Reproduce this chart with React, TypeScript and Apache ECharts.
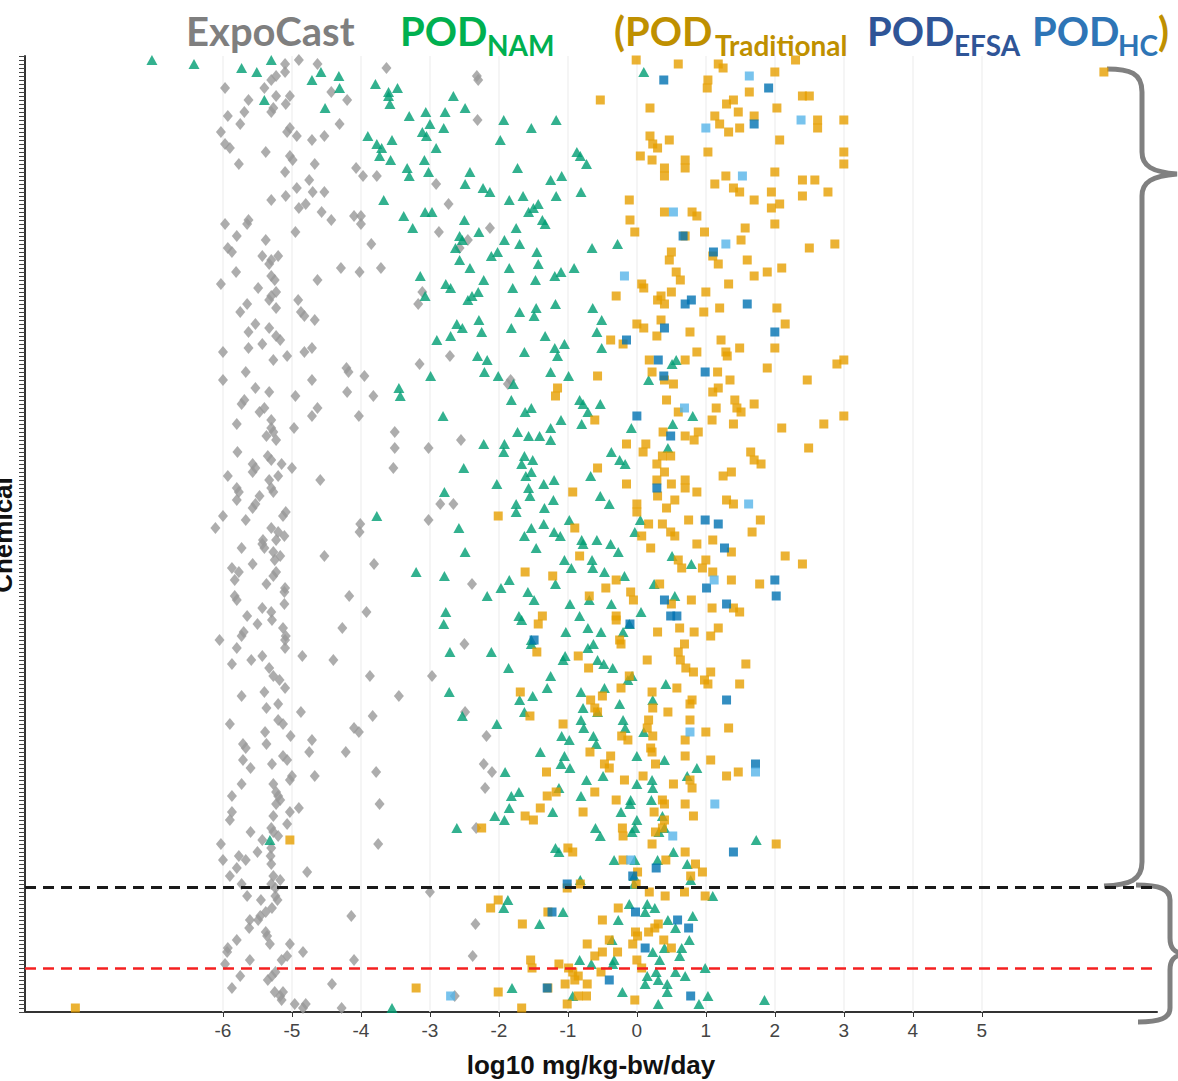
import React, { useEffect, useRef } from "react";
import * as echarts from "echarts";

// ---- tick labels ----
const xTicks = [-6, -5, -4, -3, -2, -1, 0, 1, 2, 3, 4, 5];
const X_MIN = -8.87;
const X_MAX = 7.54;
const Y_MAX = 239; // chemical rows
// separator lines between chemical groups (row positions)
const blackCut = 31.25;
const redCut = 11;

// ---- series values: [log10 mg/kg-bw/day, chemical row] ----
const expoCast: [number, number][] = [
  [-5.97,231],[-5.63,228],[-5.69,225],[-5.93,224],[-5.75,222],[-6.03,220],[-5.97,217],[-5.90,216],[-5.77,212],[-5.38,215],[-5.10,235],[-5.30,233],[-5.40,231],[-5.23,229],[-5.03,229],[-5.09,227],[-5.27,226],[-5.30,225],[-5.03,221],[-5.07,220],[-4.93,219],[-5.03,214],[-4.99,213],[-5.10,210],[-4.71,218],[-4.53,219],[-4.31,222],[-4.67,212],[-4.43,230],[-4.20,228],[-4.75,208],[-4.93,206],[-4.70,205],[-4.53,205],[-5.30,203],[-5.09,204],[-4.90,201],[-4.80,202],[-4.57,200],[-3.63,236],[-2.32,234],[-2.30,233],[-2.31,223],[-4.07,211],[-3.97,209],[-3.77,209],[-2.91,207],[-2.73,202],[-4.10,199],[-4.00,199],[-5.63,198],[-5.10,237],[-4.90,238],[-4.63,237],[-5.23,234],
  [-5.97,197],[-5.65,197],[-5.80,194],[-5.38,193],[-5.93,191],[-5.87,190],[-5.43,189],[-5.30,188],[-5.20,189],[-5.33,187],[-5.81,185],[-6.03,182],[-5.49,181],[-5.30,184],[-5.25,183],[-5.23,180],[-5.30,179],[-5.33,178],[-5.65,177],[-5.75,175],[-5.23,176],[-4.91,178],[-4.87,175],[-4.82,174],[-4.67,173],[-5.53,172],[-5.63,170],[-5.33,171],[-5.23,169],[-5.17,168],[-5.43,167],[-5.63,166],[-6.00,165],[-5.27,163],[-5.07,164],[-5.67,160],[-4.82,165],[-4.71,166],[-4.95,195],[-4.43,198],[-4.00,197],[-4.63,183],[-4.29,186],[-4.02,185],[-3.85,192],[-3.71,186],[-2.87,195],[-2.45,193],[-2.13,196],[-2.57,191],[-3.11,180],[-3.17,177],[-3.15,162],[-2.71,164],[-4.21,161],[-4.18,160],[-3.95,159],[-4.71,158],[-6.00,158],[-1.83,158],
  [-5.53,156],[-5.33,155],[-5.69,153],[-5.73,152],[-5.40,151],[-5.47,150],[-5.30,148],[-5.80,147],[-5.30,146],[-5.27,145],[-5.37,144],[-5.23,143],[-5.79,140],[-5.35,139],[-5.30,138],[-5.15,137],[-5.00,136],[-5.57,137],[-5.53,136],[-5.57,135],[-5.20,134],[-5.93,134],[-5.80,131],[-5.77,130],[-5.33,133],[-5.30,131],[-5.27,130],[-5.47,129],[-5.80,128],[-5.57,126],[-5.53,127],[-5.09,125],[-5.13,124],[-6.00,124],[-5.67,123],[-6.11,121],[-5.30,121],[-5.20,120],[-5.11,119],[-5.42,118],[-4.95,154],[-4.71,149],[-4.63,151],[-4.20,155],[-3.82,154],[-4.03,149],[-4.97,146],[-3.51,145],[-3.51,141],[-3.02,141],[-2.55,143],[-3.53,136],[-4.59,133],[-2.85,127],[-2.66,127],[-3.02,123],[-4.01,122],[-4.02,120],[-1.87,157],
  [-5.73,116],[-5.43,117],[-5.23,118],[-5.40,116],[-5.27,115],[-5.17,114],[-5.25,113],[-5.57,112],[-5.87,111],[-5.77,110],[-5.83,108],[-5.23,110],[-5.27,109],[-5.37,107],[-5.10,106],[-5.11,105],[-5.83,104],[-5.80,103],[-5.43,101],[-5.30,100],[-5.11,102],[-5.65,99],[-5.50,97],[-5.29,98],[-5.13,96],[-5.70,95],[-5.73,94],[-5.09,94],[-5.10,93],[-6.05,93],[-5.80,91],[-5.43,89],[-5.59,88],[-5.87,87],[-5.10,91],[-5.33,86],[-5.27,84],[-5.18,83],[-5.10,81],[-5.40,80],[-5.73,79],[-4.53,114],[-3.81,112],[-4.17,104],[-3.92,100],[-4.27,96],[-4.85,89],[-4.40,88],[-2.39,107],[-2.50,92],[-2.97,84],[-3.87,84],[-3.45,79],
  [-5.37,76],[-5.20,77],[-5.20,73],[-5.13,72],[-4.87,75],[-5.90,72],[-5.39,70],[-5.71,67],[-5.67,66],[-5.37,67],[-5.02,69],[-4.71,68],[-4.75,65],[-5.13,64],[-5.07,63],[-5.71,63],[-5.60,61],[-5.29,62],[-5.00,59],[-5.03,58],[-4.67,59],[-5.73,57],[-5.27,57],[-5.23,55],[-5.20,54],[-5.17,53],[-5.23,52],[-5.87,54],[-5.87,50],[-5.90,48],[-5.03,50],[-4.90,51],[-5.27,49],[-5.07,47],[-5.60,45],[-5.30,46],[-5.27,45],[-5.20,44],[-5.43,43],[-6.03,42],[-5.50,40],[-5.30,41],[-5.31,39],[-6.00,38],[-5.77,39],[-5.67,38],[-5.30,37],[-3.83,74],[-4.10,71],[-4.03,70],[-4.22,65],[-3.78,60],[-3.73,52],[-3.75,42],[-2.49,75],[-2.18,69],[-2.22,62],[-2.10,60],[-2.20,56],[-2.33,46],
  [-5.80,36],[-5.90,34],[-5.73,32],[-5.27,34],[-5.17,33],[-5.30,32],[-5.24,31],[-5.65,29],[-5.45,28],[-5.24,29],[-5.21,28],[-5.29,26],[-5.38,25],[-5.46,24],[-5.49,23],[-5.61,23],[-5.62,21],[-5.38,20],[-5.36,19],[-5.32,17],[-5.80,18],[-5.93,16],[-5.94,15],[-5.61,13],[-5.97,12],[-5.03,17],[-4.84,15],[-5.07,14],[-5.15,13],[-5.24,10],[-5.29,9],[-5.35,8],[-5.75,9],[-5.87,6],[-5.25,5],[-5.17,4],[-5.13,5],[-5.15,3],[-4.96,2],[-4.80,2],[-4.84,1],[-4.42,7],[-4.28,1],[-4.10,13],[-4.14,24],[-4.78,35],[-3.00,30],[-2.34,22],[-2.38,14],[-2.64,4]
];

const podNam: [number, number][] = [
  [-7.03,238],[-6.42,237],[-5.73,236],[-5.51,235],[-5.30,238],[-4.71,233],[-4.58,235],[-4.32,234],[-4.31,231],[-5.40,228],[-4.52,226],[-3.79,232],[-3.60,230],[-3.47,231],[-3.60,229],[-3.58,227],[-2.66,229],[-3.30,224],[-3.06,225],[-2.78,225],[-2.49,226],[-3.00,222],[-3.11,220],[-3.05,219],[-2.80,221],[-3.90,219],[-3.77,217],[-3.70,216],[-3.55,218],[-3.73,214],[-3.57,213],[-3.08,213],[-2.91,216],[-3.33,211],[-3.30,209],[-3.02,210],[-1.93,223],[-1.53,221],[-1.17,223],[-1.98,218],[-0.87,215],[-0.82,214],[-0.73,212],[-2.42,210],[-2.49,207],[-2.23,206],[-2.13,205],[-1.73,211],[-1.25,208],[-1.09,209],[-0.81,205],[-1.65,204],[-1.85,203],[-1.17,204],[-1.50,201],[-1.57,200],[-1.43,202],[-3.67,203],[0.10,235],[-3.38,199],[-3.07,200],[-2.97,200],[-2.50,198],[-1.37,198],
  [-3.25,196],[-2.29,195],[-2.57,194],[-2.53,193],[-1.75,196],[-1.33,197],[-1.92,193],[-1.70,192],[-2.63,191],[-2.57,188],[-2.11,189],[-2.02,190],[-1.45,190],[-1.43,187],[-1.85,186],[-2.42,186],[-0.65,191],[-0.28,192],[-0.91,186],[-1.10,185],[-1.19,184],[-1.47,183],[-1.80,181],[-2.22,183],[-3.14,184],[-2.77,182],[-2.70,181],[-2.30,180],[-2.39,179],[-2.45,178],[-3.07,179],[-1.18,177],[-0.64,176],[-1.70,175],[-1.46,176],[-1.49,174],[-0.51,173],[-0.58,170],[-2.29,173],[-2.61,172],[-2.53,171],[-2.25,170],[-1.82,171],[-2.90,168],[-2.70,169],[-1.33,169],[-1.05,167],[-1.19,166],[-1.15,164],[-0.51,166],[-1.63,165],[-2.31,164],[-2.17,163],[-2.21,160],[-2.01,159],[-1.25,160],[-0.99,159],[0.51,162],[0.57,163],[0.17,158],[-2.99,159],
  [-3.45,156],[-3.43,154],[-1.79,157],[-1.82,153],[-1.62,150],[-1.53,151],[-2.81,149],[-1.10,148],[-0.80,147],[-0.83,153],[-0.78,152],[-0.53,152],[-0.71,150],[-0.08,146],[0.52,147],[0.81,149],[-1.73,145],[-1.57,144],[-1.41,144],[-1.25,146],[-1.25,143],[-2.22,142],[-1.92,142],[-1.93,140],[-1.63,139],[-1.51,138],[-1.67,137],[-1.53,135],[-1.61,134],[-1.35,132],[-1.20,133],[-1.57,131],[-1.55,129],[-0.37,140],[-0.25,138],[-0.17,137],[-0.67,134],[0.45,141],[-2.51,136],[-2.03,132],[-2.79,130],[-0.53,129],[-0.40,127],[-1.21,128],[-1.75,127],[-1.75,125],[-1.34,126],[-0.98,123],[-1.53,121],[-1.35,122],[-1.20,120],[-1.63,119],[-2.58,121],[-3.77,124],[-0.03,120],[0.05,123],[-0.80,118],[-0.58,118],
  [-1.11,119],[-0.78,117],[-0.38,117],[-0.27,115],[-1.46,116],[-2.49,115],[-3.20,110],[-2.79,109],[-1.05,113],[-0.95,111],[-0.65,113],[-0.64,111],[-0.47,110],[-0.18,109],[0.25,107],[0.51,114],[0.79,112],[-1.85,108],[-1.97,106],[-2.17,104],[-1.58,105],[-1.49,103],[-1.18,107],[-0.97,102],[-0.69,103],[-0.37,102],[0.06,100],[-2.77,100],[-2.80,97],[-1.71,99],[-1.67,98],[-0.83,99],[-0.71,96],[-0.52,95],[-1.03,95],[-1.53,93],[-1.53,92],[-0.20,95],[-0.63,92],[-0.71,91],[-0.11,97],[-1.04,89],[-1.07,88],[-0.57,88],[-0.48,87],[-0.35,86],[-1.86,86],[-2.11,90],[-2.71,90],[-1.25,84],[-1.30,81],[-0.81,80],[-0.47,81],[-0.13,83],[-0.07,84],[0.42,82],[0.55,104],[-2.72,80],[-1.51,79],[0.23,78],
  [-2.53,74],[-2.03,72],[-1.70,78],[-1.63,75],[-0.78,76],[-0.57,75],[-0.25,77],[-0.81,73],[-0.77,71],[-1.09,69],[-0.98,68],[-0.63,69],[-0.59,67],[-0.20,73],[-0.17,71],[0.10,70],[-1.40,65],[-1.05,64],[-1.10,62],[-0.97,61],[0.00,64],[0.40,63],[0.87,61],[-1.91,60],[-0.73,58],[-0.49,59],[0.00,57],[0.22,58],[0.23,56],[0.73,59],[-1.82,54],[-1.71,55],[-1.13,56],[-0.81,54],[-0.09,53],[-0.10,52],[0.21,53],[-0.23,50],[-1.22,50],[-1.85,51],[-2.06,49],[-1.92,48],[-2.61,46],[0.00,48],[-0.03,46],[-0.60,46],[-0.53,44],[-0.07,45],[0.37,49],[0.40,46],[0.32,45],[-1.18,41],[-1.13,40],[0.53,40],[1.73,43],[-0.33,38],[-0.03,38],[0.30,38],[0.73,37],[-5.32,43],
  [-1.87,28],[-1.93,26],[-1.41,22],[-1.07,25],[-0.82,33],[-0.83,13],[-0.66,12],[-0.35,12],[-0.27,23],[-0.11,27],[-0.04,32],[0.15,27],[0.12,25],[0.26,26],[0.45,23],[0.56,21],[0.81,24],[0.76,18],[0.65,16],[0.62,14],[0.40,16],[0.23,15],[0.33,13],[0.99,11],[0.15,9],[0.28,10],[0.12,7],[0.31,8],[0.44,7],[0.56,10],[0.70,9],[0.44,5],[-0.21,5],[-0.93,4],[-0.36,18],[-0.33,13],[-1.81,6],[1.10,29],[0.78,33],[1.03,4],[0.90,2],[1.85,3],[0.31,2],[-3.55,1],[-0.04,34]
];

const podTraditional: [number, number][] = [
  [-0.53,228],[-0.01,238],[0.60,237],[1.18,237],[1.25,236],[2.00,235],[1.03,233],[1.02,231],[1.63,230],[2.40,229],[2.50,229],[1.30,227],[1.40,228],[1.47,225],[2.03,226],[1.13,224],[1.20,222],[1.33,220],[1.49,221],[1.70,224],[2.62,223],[2.62,221],[3.00,223],[2.07,218],[0.19,226],[0.19,219],[0.23,217],[0.30,216],[0.47,218],[1.03,215],[0.05,214],[0.22,213],[0.40,211],[0.70,213],[0.70,211],[0.40,209],[1.29,209],[1.13,207],[1.40,206],[1.49,205],[2.00,210],[2.40,208],[2.58,208],[3.00,215],[3.00,212],[2.77,205],[1.95,205],[2.40,204],[1.70,203],[1.95,201],[2.07,202],[-0.11,203],[0.40,200],[0.80,200],[0.87,199],[-0.10,198],[2.30,238],[6.77,235],
  [-0.03,195],[0.98,195],[1.57,196],[2.00,197],[0.70,194],[1.51,193],[0.50,190],[0.47,188],[1.10,189],[1.18,187],[1.60,188],[2.10,186],[1.89,185],[1.70,184],[1.33,182],[2.50,191],[2.87,192],[0.57,185],[0.63,183],[0.07,182],[0.10,181],[-0.30,179],[0.35,179],[0.50,180],[0.30,178],[0.40,177],[1.00,180],[0.97,175],[1.20,176],[2.03,176],[2.15,172],[0.00,172],[0.10,171],[0.35,173],[0.29,169],[0.77,170],[-0.38,168],[-0.20,167],[1.22,168],[1.29,165],[1.49,166],[2.00,166],[1.31,164],[0.87,165],[0.18,163],[0.70,163],[0.22,160],[1.17,160],[-0.57,159],[1.89,161],[2.90,162],[3.00,163],[2.47,158],[0.40,158],
  [0.53,157],[1.35,158],[-1.15,156],[-1.18,154],[1.10,155],[1.18,156],[0.43,153],[0.60,150],[1.15,151],[1.42,153],[1.45,151],[1.51,150],[1.70,152],[-0.61,148],[1.09,148],[1.40,147],[2.10,146],[2.71,147],[3.00,149],[0.38,145],[0.70,144],[0.89,145],[0.83,143],[-0.15,142],[0.13,142],[0.09,140],[0.37,139],[0.49,139],[2.49,141],[1.65,140],[1.70,138],[1.80,137],[-0.57,136],[0.29,137],[0.40,135],[1.25,134],[1.37,135],[0.70,133],[0.70,131],[-0.15,132],[0.29,133],[0.50,132],[-0.93,130],[0.87,130],[0.30,129],[0.55,128],[0.43,126],[1.30,128],[1.40,127],[0.00,127],[0.00,125],[0.75,123],[1.79,123],[0.17,122],[0.37,122],[0.49,120],[-2.01,124],[-0.90,121],[1.67,120],[0.07,119],[0.55,119],[1.10,118],
  [0.87,117],[1.37,115],[0.20,116],[-0.83,114],[0.60,113],[0.65,111],[1.00,113],[0.95,111],[1.10,110],[1.37,108],[2.15,114],[2.40,112],[0.33,107],[0.79,103],[1.09,101],[0.50,102],[1.78,107],[-1.62,110],[-1.22,109],[-0.30,108],[-0.09,105],[-0.05,103],[-0.45,106],[-0.69,104],[-1.37,99],[-1.43,97],[-0.30,99],[-0.30,98],[0.30,95],[0.62,96],[0.83,95],[1.07,94],[1.18,96],[1.40,101],[1.49,100],[-0.25,93],[-0.23,92],[0.60,90],[0.69,92],[-0.85,89],[-1.45,90],[0.15,88],[0.63,88],[0.71,86],[0.82,85],[1.07,85],[0.98,83],[1.03,82],[1.58,87],[1.49,82],[-0.70,86],[-0.11,84],[-0.23,81],[0.22,80],[0.58,81],[-1.69,80],[-0.67,78],[-0.50,79],[0.80,78],
  [-0.61,76],[-0.57,75],[0.23,76],[0.45,75],[0.77,77],[0.77,73],[-1.55,74],[-1.07,72],[0.17,73],[0.15,71],[-0.22,69],[-0.13,68],[0.23,69],[0.20,66],[0.22,65],[0.70,68],[1.00,70],[1.33,71],[-0.68,65],[-0.38,64],[-0.47,62],[-0.40,61],[0.27,62],[0.70,64],[1.07,63],[1.47,60],[1.30,59],[-1.31,60],[-0.18,58],[0.09,59],[0.53,57],[0.77,58],[0.80,56],[-0.61,55],[-0.30,53],[0.37,53],[0.40,52],[0.70,52],[0.25,50],[0.82,49],[-1.17,55],[-1.30,54],[-1.40,51],[-1.62,49],[-1.50,48],[-0.78,50],[0.40,48],[0.37,46],[0.27,45],[0.22,42],[-0.21,46],[-0.20,44],[0.70,40],[-1.00,41],[-0.93,40],[-0.20,38],[0.85,37],[2.02,42],[-2.25,46],[-5.03,43],[0.42,38],
  [-2.12,26],[-2.01,28],[-1.66,22],[-1.29,25],[-0.50,23],[-0.27,26],[0.01,35],[-0.01,32],[0.18,30],[0.41,29],[0.69,30],[0.95,35],[0.78,34],[0.99,29],[-0.02,20],[0.01,19],[0.17,20],[0.26,21],[0.31,22],[0.39,18],[0.50,16],[-0.06,17],[0.00,13],[-0.40,18],[-0.72,17],[-0.28,15],[-0.61,14],[-0.50,15],[-1.54,13],[-1.52,11],[-1.13,12],[-0.99,11],[-0.93,10],[-0.85,9],[-0.72,7],[-1.04,7],[-0.90,8],[-0.52,10],[0.07,11],[-0.85,4],[-0.73,4],[-1.01,2],[-0.03,3],[-2.01,5],[-1.67,1],[-3.20,6],[-1.29,6],[-0.82,32],[-1.01,31],[-8.14,1]
];

const podEfsa: [number, number][] = [
  [0.39,233],[1.91,231],[1.70,222],[0.67,194],[1.11,190],[0.70,177],[0.79,178],[1.60,177],[0.40,171],[-0.15,168],[2.00,170],[0.31,163],[0.99,160],[0.39,159],[0.00,149],[0.49,144],[0.29,131],[0.99,123],[1.18,122],[1.27,116],[2.00,108],[2.02,104],[1.01,106],[0.40,103],[1.30,102],[0.49,99],[0.58,99],[-0.10,97],[-1.49,93],[1.30,78],[1.72,62],[1.40,40],[-1.01,32],[-1.23,25],[-0.06,34],[-0.02,25],[0.28,36],[0.59,23],[0.75,21],[0.12,16],[-0.40,8],[-1.30,6],[0.78,4]
];

const podHc: [number, number][] = [
  [1.63,234],[1.00,221],[1.53,209],[0.53,200],[2.38,223],[1.29,192],[-0.18,184],[0.69,151],[1.62,127],[1.12,108],[0.77,70],[1.72,60],[1.13,52],[0.52,44],[-0.09,38],[-2.70,4]
];

// ---- brace outlines (page decoration) ----
const braceUpper =
  "M1107 69 C1130 69 1142 73 1142 92 L1142 152 C1142 166 1152 172 1177 174 C1152 176 1142 182 1142 196 L1142 862 C1142 880 1130 885 1104 886";
const braceLower =
  "M1136 885 C1160 885 1170 889 1170 900 L1170 938 C1170 948 1174 952 1183 954 C1174 956 1170 960 1170 970 L1170 1008 C1170 1018 1160 1022 1138 1022";

let shapesRegistered = false;
function registerShapes() {
  if (shapesRegistered) return;
  echarts.graphic.registerShape("braceUpper", echarts.graphic.extendPath(braceUpper, {}));
  echarts.graphic.registerShape("braceLower", echarts.graphic.extendPath(braceLower, {}));
  shapesRegistered = true;
}

const TITLE_FONT = "Lato";
const MAIN = 40;
const SUB = 28;
const MAIN_Y = 31;
const SUB_Y = 45;

function titleText(text: string, x: number, sub: boolean, color: string) {
  return {
    type: "text",
    x,
    y: sub ? SUB_Y : MAIN_Y,
    silent: true,
    style: {
      text,
      fill: color,
      fontFamily: TITLE_FONT,
      fontWeight: "bold",
      fontSize: sub ? SUB : MAIN,
      textAlign: "left",
      textVerticalAlign: "middle",
    },
  };
}

export default function App() {
  const ref = useRef<HTMLDivElement>(null);
  useEffect(() => {
    if (!ref.current) return;
    registerShapes();
    const chart = echarts.init(ref.current, null, { renderer: "svg" });
    const sq = 9;
    chart.setOption({
      animation: false,
      backgroundColor: "#ffffff",
      grid: { left: 25, right: 21, top: 56, bottom: 69, containLabel: false, outerBoundsMode: "none" },
      xAxis: {
        type: "value",
        min: X_MIN,
        max: X_MAX,
        axisLine: { show: true, onZero: false, lineStyle: { color: "#333333", width: 2 } },
        axisTick: { show: true, customValues: xTicks, length: 5, lineStyle: { color: "#333333", width: 1 } },
        axisLabel: {
          customValues: xTicks,
          color: "#444444",
          fontSize: 19,
          fontFamily: "Liberation Sans",
          margin: 9,
        },
        splitLine: { show: false },
        name: "log10 mg/kg-bw/day",
        nameLocation: "middle",
        nameGap: 40,
        nameTextStyle: { color: "#111111", fontSize: 26, fontWeight: "bold", fontFamily: "Liberation Sans" },
      },
      yAxis: {
        type: "value",
        min: 0,
        max: Y_MAX,
        interval: 1,
        axisLine: { show: true, onZero: false, lineStyle: { color: "#333333", width: 2 } },
        axisTick: { show: true, length: 6, lineStyle: { color: "#444444", width: 1 } },
        axisLabel: { show: false },
        splitLine: { show: false },
      },
      series: [
        {
          type: "scatter",
          name: "grid",
          data: [],
          silent: true,
          z: 1,
          markLine: {
            silent: true,
            z: 1,
            symbol: ["none", "none"],
            label: { show: false },
            lineStyle: { color: "#f2f2f2", width: 1.5, type: "solid" },
            data: xTicks.map((v) => ({ xAxis: v })),
          },
        },
        {
          type: "scatter",
          name: "ExpoCast",
          data: expoCast,
          symbol: "diamond",
          symbolSize: [10, 12],
          itemStyle: { color: "#999999" },
          z: 2,
        },
        {
          type: "scatter",
          name: "POD NAM",
          data: podNam,
          symbol: "triangle",
          symbolSize: [11, 10],
          itemStyle: { color: "#009E73" },
          z: 3,
        },
        {
          type: "scatter",
          name: "POD Traditional",
          data: podTraditional,
          symbol: "rect",
          symbolSize: sq,
          itemStyle: { color: "#E69F00" },
          z: 4,
        },
        {
          type: "scatter",
          name: "POD EFSA",
          data: podEfsa,
          symbol: "rect",
          symbolSize: sq,
          itemStyle: { color: "#0072B2" },
          z: 5,
        },
        {
          type: "scatter",
          name: "POD HC",
          data: podHc,
          symbol: "rect",
          symbolSize: sq,
          itemStyle: { color: "#56B4E9" },
          z: 6,
        },
        {
          type: "scatter",
          name: "cuts",
          data: [],
          silent: true,
          z: 10,
          markLine: {
            silent: true,
            z: 10,
            symbol: ["none", "none"],
            label: { show: false },
            data: [
              { yAxis: blackCut, lineStyle: { color: "#1a1a1a", width: 3, type: [11, 7] } },
              { yAxis: redCut, lineStyle: { color: "#f52020", width: 2.5, type: [11, 7] } },
            ],
          },
        },
      ],
      graphic: [
        titleText("ExpoCast", 186, false, "#7f7f7f"),
        titleText("POD", 400, false, "#00b050"),
        titleText("NAM", 487, true, "#00b050"),
        titleText("(POD", 614, false, "#bf9000"),
        titleText("Traditional", 715, true, "#bf9000"),
        titleText("POD", 867, false, "#2f5597"),
        titleText("EFSA", 954, true, "#2f5597"),
        titleText("POD", 1032, false, "#2e75b6"),
        titleText("HC", 1118, true, "#2e75b6"),
        titleText(")", 1158, false, "#bf9000"),
        {
          type: "text",
          x: 3,
          y: 535,
          rotation: Math.PI / 2,
          silent: true,
          style: {
            text: "Chemical",
            fill: "#111111",
            fontFamily: "Liberation Sans",
            fontWeight: "bold",
            fontSize: 26,
            textAlign: "center",
            textVerticalAlign: "middle",
          },
        },
        {
          type: "braceUpper",
          x: 0,
          y: 0,
          silent: true,
          style: { fill: "none", stroke: "#808080", lineWidth: 5 },
        },
        {
          type: "braceLower",
          x: 0,
          y: 0,
          silent: true,
          style: { fill: "none", stroke: "#808080", lineWidth: 5 },
        },
      ],
    });
    return () => chart.dispose();
  }, []);
  return (
    <div
      ref={ref}
      style={{ position: "fixed", left: 0, top: 0, width: 1178, height: 1081, background: "#ffffff" }}
    />
  );
}
